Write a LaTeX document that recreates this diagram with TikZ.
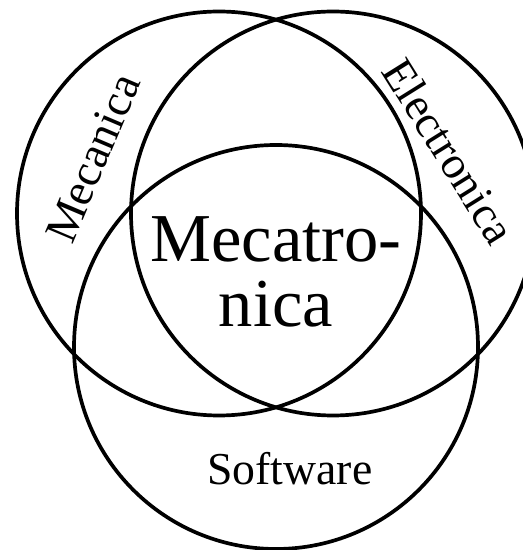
\documentclass[tikz,border=0pt]{standalone}
\usepackage{fontspec}
\setmainfont{Liberation Serif}
\usetikzlibrary{calc, positioning}

\begin{document}
\begin{tikzpicture}[
  ring/.style={line width=2.1pt},
  area/.style={inner sep=0pt, font=\fontsize{26}{30}\selectfont},
  core/.style={inner sep=0pt, align=center, font=\fontsize{39}{37}\selectfont}
]
\def\rad{4.04}

\useasboundingbox (0,0) rectangle (10.46,11);
\clip (0,0) rectangle (10.46,11);

\coordinate (cm) at (4.38,6.73);
\coordinate (ce) at (6.66,6.73);
\coordinate (cs) at (5.52,4.06);

\draw[ring] (cm) circle (\rad);
\draw[ring] (ce) circle (\rad);
\draw[ring] (cs) circle (\rad);

\node[area, rotate=67] (mec) at (1.86,7.84) {Mecanica};
\node[area, rotate=-58] (ele) at (8.98,7.98) {Electronica};
\node[area, anchor=base] (sof) at (5.80,1.30) {Software};
\node[core] (mtr) at (5.52,5.57) {Mecatro-\\nica};

\end{tikzpicture}
\end{document}
